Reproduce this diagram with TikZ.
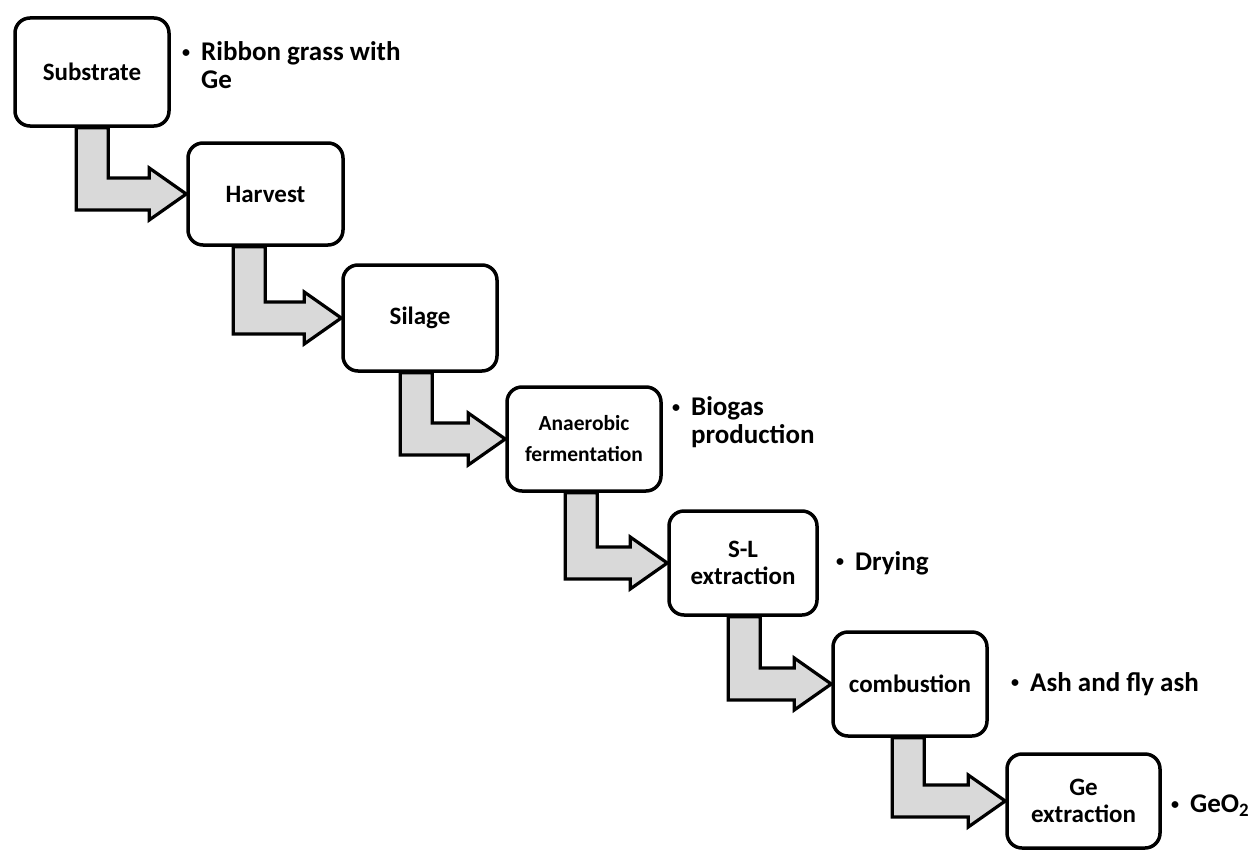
\documentclass[tikz,border=0pt]{standalone}
\usepackage{fontspec}
\setmainfont{Carlito}
\usetikzlibrary{calc}
\definecolor{arrowgray}{HTML}{D9D9D9}
\tikzset{
  stepbox/.style={draw=black, line width=3.5pt, rounded corners=15pt, fill=white,
    align=center, inner sep=0pt, font=\bfseries\fontsize{25}{27}\selectfont},
  sidelabel/.style={anchor=west, inner sep=0pt, align=left,
    font=\bfseries\fontsize{27}{28}\selectfont},
  flowarrow/.style={draw=black, fill=arrowgray, line width=3.2pt, line join=miter},
}
\newcommand{\flowarr}[3]{%
  \filldraw[flowarrow] let \p1=(#1.south west), \p2=(#2.west) in
    (\x1+#3-16pt,\y1) -- (\x1+#3-16pt,\y2-16pt) -- (\x2-37pt,\y2-16pt) --
    (\x2-37pt,\y2-26pt) -- (\x2,\y2) -- (\x2-37pt,\y2+26pt) --
    (\x2-37pt,\y2+16pt) -- (\x1+#3+16pt,\y2+16pt) -- (\x1+#3+16pt,\y1) -- cycle;}
\newcommand{\bulglyph}{\raisebox{0.13em}{\fontsize{16}{16}\selectfont\textbullet}}
\newcommand{\sbul}{\bulglyph\hspace{11pt}}
\newcommand{\bul}[2]{\begin{tabular}{@{}l@{\hspace{11pt}}l@{}}\bulglyph & #1\\ & #2\end{tabular}}
\begin{document}
\begin{tikzpicture}[x=1pt,y=-1pt]
\useasboundingbox[fill=white] (0,0) rectangle (1252,851);
\node[stepbox, minimum width=154pt, minimum height=108pt] (sub) at (92,72) {Substrate};
\node[stepbox, minimum width=155pt, minimum height=102pt] (har) at (265.5,194) {Harvest};
\node[stepbox, minimum width=154pt, minimum height=106pt] (sil) at (420,318) {Silage};
\node[stepbox, minimum width=154pt, minimum height=104pt, font=\bfseries\fontsize{21.5}{31}\selectfont] (ana) at (584,439) {Anaerobic\\fermentation};
\node[stepbox, minimum width=148pt, minimum height=104pt] (sle) at (743,563) {S-L\\extraction};
\node[stepbox, minimum width=154pt, minimum height=104pt] (com) at (910,684) {combustion};
\node[stepbox, minimum width=153pt, minimum height=94pt] (gee) at (1083.5,801) {Ge\\extraction};
\flowarr{sub}{har}{79pt}
\flowarr{har}{sil}{63pt}
\flowarr{sil}{ana}{75pt}
\flowarr{ana}{sle}{76pt}
\flowarr{sle}{com}{77pt}
\flowarr{com}{gee}{77pt}
% side labels
\node[sidelabel] (l1) at (182,69) {\bul{Ribbon grass with}{Ge}};
\node[sidelabel] (l2) at (672,424) {\bul{Biogas}{production}};
\node[sidelabel] (l3) at (836,563) {\sbul Drying};
\node[sidelabel] (l4) at (1011,684) {\sbul Ash and fly ash};
\node[sidelabel] (l5) at (1171,806) {\sbul GeO\textsubscript{2}};
\end{tikzpicture}
\end{document}
